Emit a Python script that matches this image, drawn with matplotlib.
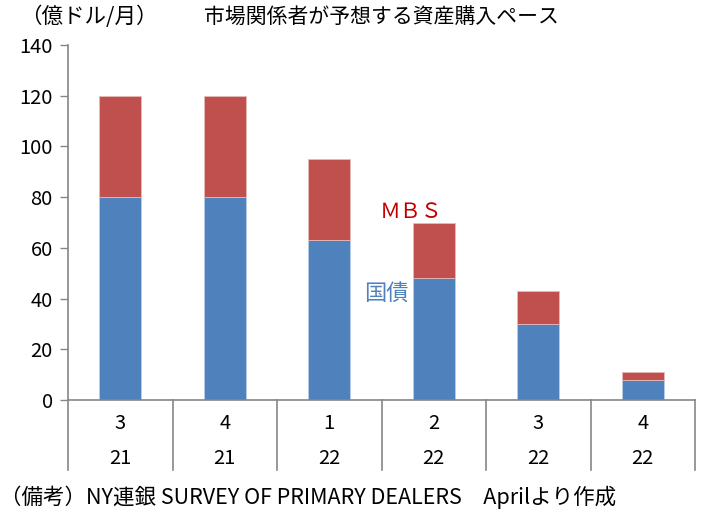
import matplotlib.pyplot as plt
import matplotlib.transforms as mtransforms
import numpy as np

plt.rcParams['font.family'] = ['Noto Sans CJK JP', 'DejaVu Sans']

# 四半期と年 (2段のx軸ラベル)
quarters = ['3', '4', '1', '2', '3', '4']
years = ['21', '21', '22', '22', '22', '22']

# 億ドル/月
treasury = [80, 80, 63, 48, 30, 8]   # 国債
mbs = [40, 40, 32, 22, 13, 3]        # MBS

blue = '#4F81BD'
red = '#C0504D'
axis_gray = '#868686'

fig = plt.figure(figsize=(7.05, 5.18), dpi=100)
ax = fig.add_axes([68 / 705, 1 - 400 / 518, 627 / 705, 355 / 518])

x = np.arange(len(quarters))
ax.bar(x, treasury, width=0.4, color=blue, edgecolor='#B9CDE5', linewidth=0.6)
ax.bar(x, mbs, width=0.4, bottom=treasury, color=red, edgecolor='#E6B9B8', linewidth=0.6)

ax.set_xlim(-0.5, len(quarters) - 0.5)
ax.set_ylim(0, 140)
ax.set_yticks(range(0, 141, 20))
ax.tick_params(axis='y', labelsize=14.5, length=6, width=1, color=axis_gray, pad=5)
ax.set_xticks([])

for side in ['top', 'right']:
    ax.spines[side].set_visible(False)
ax.spines['left'].set_color(axis_gray)
ax.spines['bottom'].set_color(axis_gray)
ax.spines['left'].set_linewidth(1.2)
ax.spines['bottom'].set_linewidth(1.2)

# 2段ラベルと区切り線
trans = mtransforms.blended_transform_factory(ax.transData, ax.transAxes)
for i in range(len(quarters)):
    ax.text(i, -0.065, quarters[i], transform=trans, ha='center', va='center', fontsize=14.5)
    ax.text(i, -0.165, years[i], transform=trans, ha='center', va='center', fontsize=14.5)
for b in np.arange(-0.5, len(quarters), 1.0):
    ax.plot([b, b], [0, -0.197], transform=trans, color=axis_gray, lw=1.2, clip_on=False)

# 系列名
ax.text(2.78, 74, 'ＭＢＳ', color='#C00000', fontsize=15, ha='center', va='center', zorder=5)
ax.text(2.55, 42, '国債', color=blue, fontsize=16, ha='center', va='center', zorder=5)

fig.text(20 / 705, 1 - 17 / 518, '（億ドル/月）', fontsize=15.5, ha='left', va='center')
fig.text(381 / 705, 1 - 17 / 518, '市場関係者が予想する資産購入ペース', fontsize=15, ha='center', va='center')
fig.text(0, 1 - 497 / 518, '（備考）NY連銀 SURVEY OF PRIMARY DEALERS　Aprilより作成',
         fontsize=15.5, ha='left', va='center')

fig.savefig('out.png', dpi=100)
